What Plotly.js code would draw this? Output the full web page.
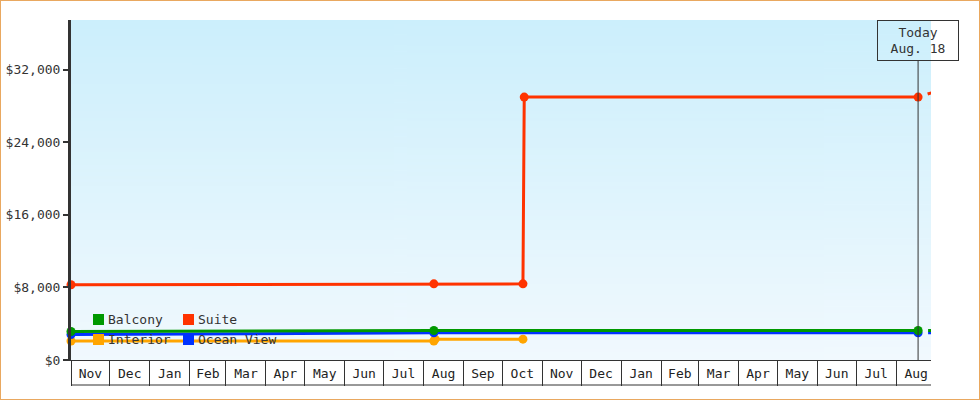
<!DOCTYPE html>
<html>
<head>
<meta charset="utf-8">
<script src="https://cdn.plot.ly/plotly-3.0.1.min.js"></script>
<style>
  body { margin: 0; background: #fff; }
  #chart { width: 978px; height: 398px; border: 1px solid #e9a860; }
</style>
</head>
<body>
<div id="chart"></div>
<script>
// cabin prices
var suiteDates = ['2014-11-01', '2015-08-09', '2015-10-17', '2015-10-18', '2016-08-18'];
var suitePrices = [8299, 8399, 8399, 28999, 28999];

var balconyDates = ['2014-11-01', '2015-08-09', '2016-08-18'];
var balconyPrices = [3149, 3249, 3249];

var oceanDates = ['2014-11-01', '2015-08-09', '2016-08-18'];
var oceanPrices = [2799, 2999, 2999];

var interiorDates = ['2014-11-01', '2015-08-09', '2015-08-10', '2015-10-17'];
var interiorPrices = [2099, 2099, 2299, 2299];

// dashed projection past today
var projDates = ['2016-08-18', '2016-09-18'];
var suiteProj = [28999, 30400];
var balconyProj = [3249, 3249];
var oceanProj = [2999, 2999];

var today = '2016-08-18';
var todayLabel = 'Today<br>Aug. 18';

var names = ['Balcony', 'Suite', 'Interior', 'Ocean View'];
var colors = {'Balcony': '#009900', 'Suite': '#ff3300', 'Interior': '#ffa500', 'Ocean View': '#0033ff'};

var font = 'DejaVu Sans Mono, monospace';

function series(name, xs, ys) {
  return {
    x: xs, y: ys, name: name, type: 'scatter', mode: 'lines+markers',
    line: {color: colors[name], width: 3},
    marker: {color: colors[name], size: 9},
    cliponaxis: false, showlegend: false, hoverinfo: 'skip'
  };
}
function projection(name, ys) {
  return {
    x: projDates, y: ys, type: 'scatter', mode: 'lines',
    line: {color: colors[name], width: 3, dash: '0px,10px,10px,0px'},
    showlegend: false, hoverinfo: 'skip'
  };
}

var data = [
  series('Interior', interiorDates, interiorPrices),
  projection('Ocean View', oceanProj),
  series('Ocean View', oceanDates, oceanPrices),
  projection('Balcony', balconyProj),
  series('Balcony', balconyDates, balconyPrices),
  projection('Suite', suiteProj),
  series('Suite', suiteDates, suitePrices)
];

// background gradient for the plot area
var cv = document.createElement('canvas');
cv.width = 4; cv.height = 200;
var ctx = cv.getContext('2d');
var grad = ctx.createLinearGradient(0, 0, 0, 200);
grad.addColorStop(0, '#cceffc');
grad.addColorStop(1, '#f1f9fe');
ctx.fillStyle = grad;
ctx.fillRect(0, 0, 4, 200);

// plot area is 860 x 340 px
var pw = 860, ph = 340;
var shapes = [
  {type: 'line', xref: 'paper', yref: 'paper', x0: 0, x1: 1, y0: -25 / ph, y1: -25 / ph,
   line: {color: '#333', width: 1}},
  {type: 'line', xref: 'x', yref: 'paper', x0: today, x1: today, y0: 0, y1: (ph - 40) / ph,
   line: {color: '#333', width: 1}}
];
var annotations = [
  {x: today, y: 1, xref: 'x', yref: 'paper', yanchor: 'top', showarrow: false,
   text: todayLabel, align: 'center', width: 76, height: 35, borderpad: 2,
   bordercolor: '#333', borderwidth: 1, font: {family: font, size: 13, color: '#333'}}
];

// legend: two columns, two rows at the bottom left
names.forEach(function (n, i) {
  var col = i % 2, row = Math.floor(i / 2);
  var sx = 22 + col * 90;
  var cy = 40 - row * 20 + 0.5;
  shapes.push({type: 'rect', xref: 'paper', yref: 'paper', layer: 'above',
    x0: sx / pw, x1: (sx + 11) / pw, y0: (cy - 5.5) / ph, y1: (cy + 5.5) / ph,
    fillcolor: colors[n], line: {width: 0}});
  annotations.push({xref: 'paper', yref: 'paper', x: (sx + 13) / pw, y: cy / ph,
    xanchor: 'left', yanchor: 'middle', showarrow: false, text: n,
    font: {family: font, size: 13, color: '#333'}});
});

var layout = {
  width: 978, height: 398,
  margin: {l: 70, r: 48, t: 19, b: 39},
  paper_bgcolor: '#fff', plot_bgcolor: 'rgba(0,0,0,0)',
  showlegend: false,
  font: {family: font, size: 13, color: '#333'},
  images: [{source: cv.toDataURL(), xref: 'paper', yref: 'paper', x: 0, y: 1,
    sizex: 1, sizey: 1, sizing: 'stretch', layer: 'below'}],
  xaxis: {
    type: 'date', range: ['2014-11-01', '2016-08-28'],
    tick0: '2014-11-01', dtick: 'M1', tickformat: '%b', ticklabelmode: 'period',
    ticks: 'outside', ticklen: 25, tickwidth: 1, tickcolor: '#333',
    ticklabelstandoff: -24,
    showline: true, linecolor: '#333', linewidth: 1,
    showgrid: false, zeroline: false, fixedrange: true,
    tickfont: {family: font, size: 13, color: '#222'}
  },
  yaxis: {
    range: [0, 37500], dtick: 8000, tick0: 0, tickformat: '$,.0f',
    ticks: 'outside', ticklen: 5, tickwidth: 2, tickcolor: '#333',
    showline: true, linecolor: '#333', linewidth: 3,
    showgrid: false, zeroline: false, fixedrange: true,
    tickfont: {family: font, size: 13, color: '#333'}
  },
  shapes: shapes,
  annotations: annotations
};

Plotly.newPlot('chart', data, layout, {staticPlot: true});
</script>
</body>
</html>
